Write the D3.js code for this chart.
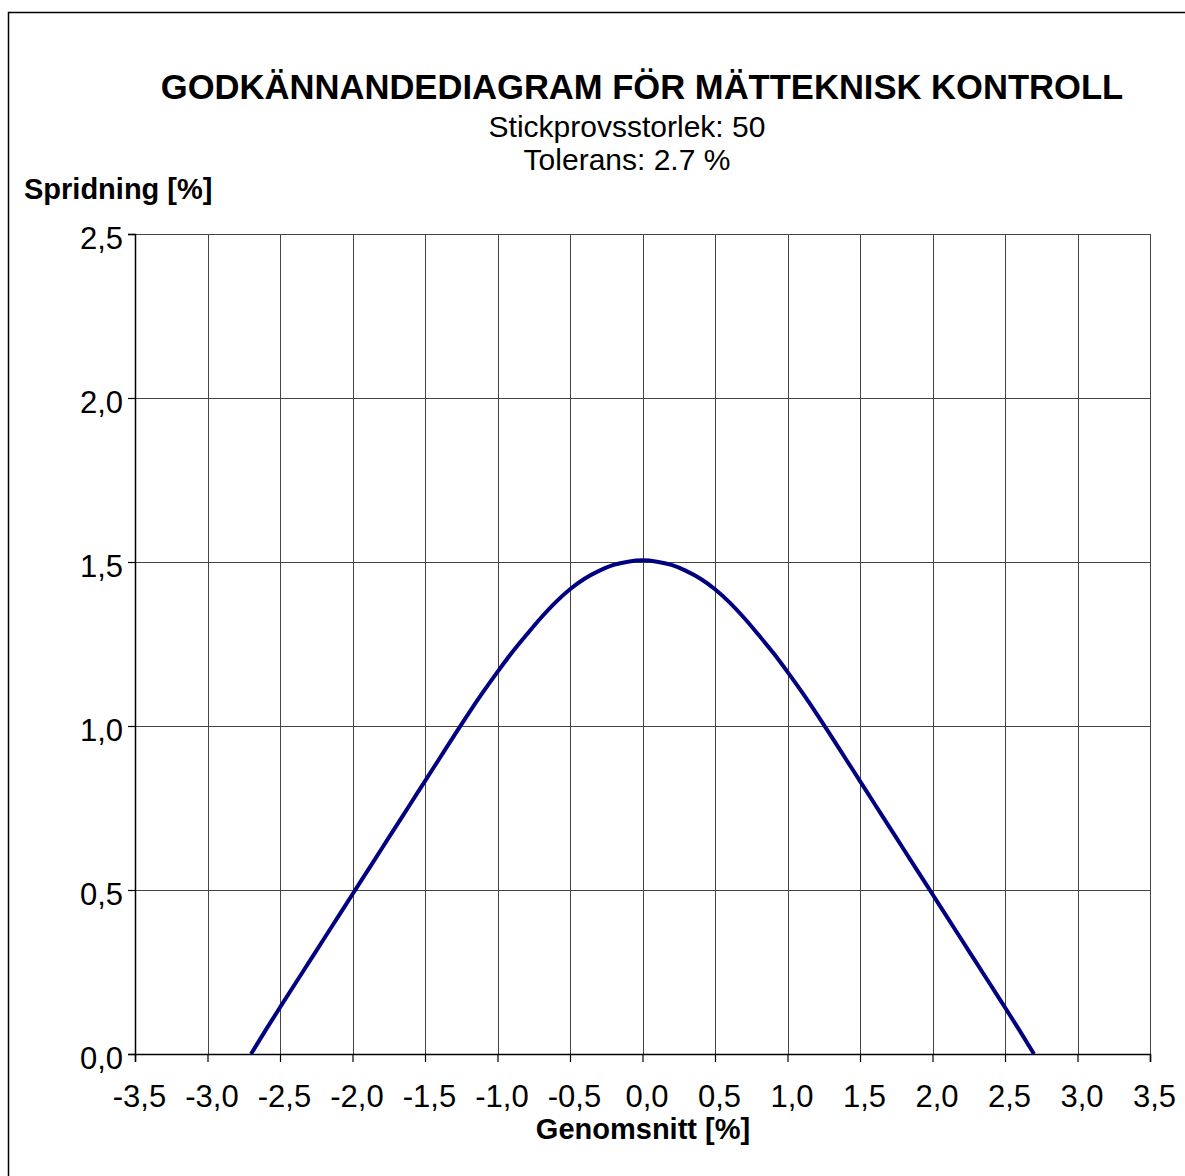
<!DOCTYPE html>
<html>
<head>
<meta charset="utf-8">
<script src="https://cdnjs.cloudflare.com/ajax/libs/d3/7.8.5/d3.min.js"></script>
<style>
  body { margin: 0; background: #fff; }
  text { font-family: "Liberation Sans", Arial, sans-serif; fill: #000; }
</style>
</head>
<body>
<div id="chart"></div>
<script>
// Chart texts
var title = "GODKÄNNANDEDIAGRAM FÖR MÄTTEKNISK KONTROLL";
var subtitles = ["Stickprovsstorlek: 50", "Tolerans: 2.7 %"];
var yLabel = "Spridning [%]";
var xLabel = "Genomsnitt [%]";

// Acceptance curve (mean vs. spread)
var meanValues = [-2.7, -2.6, -2.5, -2.4, -2.3, -2.2, -2.1, -2.0, -1.9, -1.8,
  -1.7, -1.6, -1.5, -1.4, -1.3, -1.2, -1.1, -1.0, -0.9, -0.8, -0.7, -0.6,
  -0.5, -0.4, -0.3, -0.2, -0.1, 0.0, 0.1, 0.2, 0.3, 0.4, 0.5, 0.6, 0.7,
  0.8, 0.9, 1.0, 1.1, 1.2, 1.3, 1.4, 1.5, 1.6, 1.7, 1.8, 1.9, 2.0, 2.1,
  2.2, 2.3, 2.4, 2.5, 2.6, 2.7];
var spreadValues = [0.0, 0.072, 0.142, 0.211, 0.28, 0.349, 0.418, 0.487, 0.556, 0.625,
  0.694, 0.763, 0.832, 0.901, 0.97, 1.038, 1.103, 1.165, 1.224, 1.278, 1.33, 1.377,
  1.417, 1.449, 1.473, 1.491, 1.501, 1.505, 1.501, 1.491, 1.473, 1.449, 1.417, 1.377, 1.33,
  1.278, 1.224, 1.165, 1.103, 1.038, 0.97, 0.901, 0.832, 0.763, 0.694, 0.625, 0.556, 0.487, 0.418,
  0.349, 0.28, 0.211, 0.142, 0.072, 0.0];

var xTicks = [-3.5, -3.0, -2.5, -2.0, -1.5, -1.0, -0.5, 0.0, 0.5, 1.0, 1.5, 2.0, 2.5, 3.0, 3.5];
var yTicks = [0.0, 0.5, 1.0, 1.5, 2.0, 2.5];

var width = 1185, height = 1176;
var plot = { left: 135, right: 1150, top: 234, bottom: 1054 };

var svg = d3.select("#chart").append("svg")
    .attr("width", width)
    .attr("height", height);

// outer frame
svg.append("rect")
    .attr("x", 8.5).attr("y", 12.5)
    .attr("width", 1180).attr("height", 1180)
    .attr("fill", "none")
    .attr("stroke", "#000")
    .attr("stroke-width", 1.5);

var x = d3.scaleLinear().domain([-3.5, 3.5]).range([plot.left, plot.right]);
var y = d3.scaleLinear().domain([0, 2.5]).range([plot.bottom, plot.top]);

var fmt = function(d) { return d3.format(".1f")(d).replace(".", ",").replace("−", "-"); };

// grid
var grid = svg.append("g").attr("shape-rendering", "crispEdges");
grid.selectAll("line.v")
    .data(xTicks.slice(1))
    .enter().append("line")
    .attr("x1", function(d) { return Math.round(x(d)) + 0.5; })
    .attr("x2", function(d) { return Math.round(x(d)) + 0.5; })
    .attr("y1", plot.top).attr("y2", plot.bottom)
    .attr("stroke", "#444");
grid.selectAll("line.h")
    .data(yTicks.slice(1))
    .enter().append("line")
    .attr("y1", function(d) { return Math.round(y(d)) + 0.5; })
    .attr("y2", function(d) { return Math.round(y(d)) + 0.5; })
    .attr("x1", plot.left).attr("x2", plot.right)
    .attr("stroke", "#444");

// axes
var xAxis = d3.axisBottom(x).tickValues(xTicks).tickFormat(fmt).tickSize(8);
var xMinor = d3.axisBottom(x).tickValues(d3.range(-35, 36).map(function(v) { return v / 10; }))
    .tickFormat("").tickSize(5);
var yAxis = d3.axisLeft(y).tickValues(yTicks).tickFormat(fmt).tickSize(7).tickPadding(5);
var yMinor = d3.axisLeft(y).tickValues(d3.range(0, 26).map(function(v) { return v / 10; }))
    .tickFormat("").tickSize(6);

var gx = svg.append("g").attr("transform", "translate(0," + plot.bottom + ")");
gx.call(xMinor);
gx.call(xAxis);
var gy = svg.append("g").attr("transform", "translate(" + plot.left + ",0)");
gy.call(yMinor);
gy.call(yAxis);

svg.selectAll(".domain").attr("stroke", "#000").attr("stroke-width", 1.5);
svg.selectAll(".tick line").attr("stroke", "#000").attr("stroke-width", 1.2);
gx.selectAll(".tick text")
    .attr("font-size", 31)
    .attr("font-family", "Liberation Sans, Arial, sans-serif")
    .attr("y", 53)
    .attr("dy", 0)
    .attr("dx", 4);
gy.selectAll(".tick text")
    .attr("font-size", 31)
    .attr("font-family", "Liberation Sans, Arial, sans-serif")
    .attr("dy", 0)
    .attr("y", 14);

// curve
var pts = meanValues.map(function(m, i) { return [m, spreadValues[i]]; });
var line = d3.line()
    .x(function(d) { return x(d[0]); })
    .y(function(d) { return y(d[1]); })
    .curve(d3.curveMonotoneX);
svg.append("path")
    .datum(pts)
    .attr("d", line)
    .attr("fill", "none")
    .attr("stroke", "#000080")
    .attr("stroke-width", 4);

// titles
svg.append("text")
    .attr("x", 642).attr("y", 99)
    .attr("text-anchor", "middle")
    .attr("font-weight", "bold")
    .attr("font-size", 34.6)
    .text(title);
svg.selectAll("text.sub")
    .data(subtitles)
    .enter().append("text")
    .attr("x", 627)
    .attr("y", function(d, i) { return 137 + i * 33; })
    .attr("text-anchor", "middle")
    .attr("font-size", 30)
    .text(function(d) { return d; });
svg.append("text")
    .attr("x", 24).attr("y", 199)
    .attr("font-weight", "bold")
    .attr("font-size", 29)
    .text(yLabel);
svg.append("text")
    .attr("x", 643).attr("y", 1139)
    .attr("text-anchor", "middle")
    .attr("font-weight", "bold")
    .attr("font-size", 29)
    .text(xLabel);
</script>
</body>
</html>
